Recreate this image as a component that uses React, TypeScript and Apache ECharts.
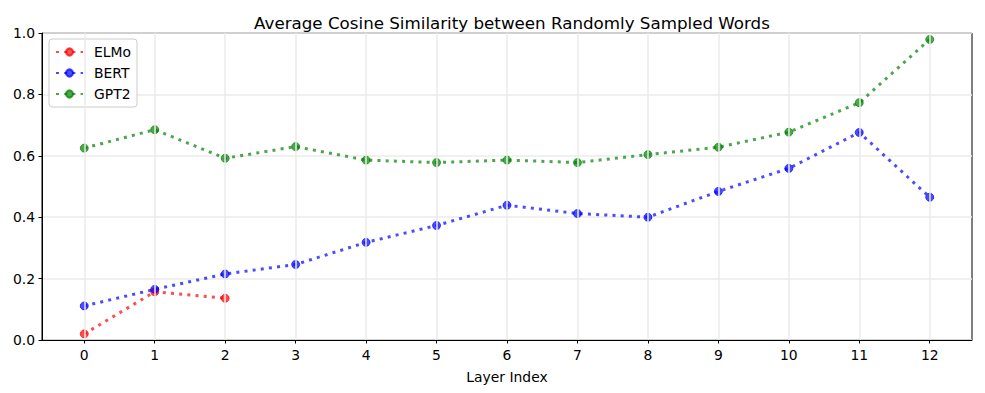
import React, { useEffect, useRef } from "react";
import * as echarts from "echarts";

const layers = [0, 1, 2, 3, 4, 5, 6, 7, 8, 9, 10, 11, 12];
const elmo = [0.02, 0.157, 0.136];
const bert = [0.111, 0.165, 0.215, 0.246, 0.318, 0.373, 0.439, 0.412, 0.4, 0.484, 0.559, 0.676, 0.465];
const gpt2 = [0.625, 0.685, 0.592, 0.63, 0.586, 0.578, 0.586, 0.578, 0.604, 0.628, 0.677, 0.773, 0.979];

const FONT = "DejaVu Sans";

function mkSeries(name: string, values: number[], rgb: string) {
  return {
    name,
    type: "line",
    data: values.map((v, i) => [layers[i], v]),
    symbol: "circle",
    symbolSize: 8,
    z: 3,
    lineStyle: { color: `rgba(${rgb},0.7)`, width: 3, type: [3, 5.2], cap: "butt" },
    itemStyle: { color: `rgba(${rgb},0.7)`, borderColor: `rgba(${rgb},0.7)`, borderWidth: 1 },
    emphasis: { disabled: true },
  };
}

export default function App() {
  const ref = useRef<HTMLDivElement>(null);
  useEffect(() => {
    document.body.style.margin = "0";
    const chart = echarts.init(ref.current!, null, { renderer: "svg" });
    chart.setOption({
      animation: false,
      title: {
        text: "Average Cosine Similarity between Randomly Sampled Words",
        left: 507,
        textAlign: "center",
        top: 9,
        textStyle: { fontFamily: FONT, fontSize: 16.7, fontWeight: "normal", color: "#000" },
      },
      grid: {
        left: 42,
        right: 13,
        top: 33,
        bottom: 53,
        outerBoundsMode: "none",
        containLabel: false,
        show: true,
        borderColor: "#000",
        borderWidth: 1,
        backgroundColor: "transparent",
      },
      legend: {
        data: ["ELMo", "BERT", "GPT2"],
        orient: "vertical",
        left: 49,
        top: 39,
        itemWidth: 27,
        itemHeight: 9,
        itemGap: 5,
        padding: [5, 6, 5, 6],
        borderColor: "#ccc",
        borderWidth: 1,
        borderRadius: 3,
        backgroundColor: "rgba(255,255,255,0.8)",
        textStyle: { fontFamily: FONT, fontSize: 13.9, color: "#000", padding: [0, 0, 0, 6], lineHeight: 16 },
      },
      xAxis: {
        type: "value",
        min: -0.6,
        max: 12.6,
        name: "Layer Index",
        nameLocation: "middle",
        nameGap: 30,
        nameTextStyle: { fontFamily: FONT, fontSize: 13.9, color: "#000" },
        axisLine: { show: true, onZero: false, lineStyle: { color: "#000", width: 1 } },
        axisTick: { show: true, customValues: layers, length: 3.5, lineStyle: { color: "#000" } },
        axisLabel: {
          customValues: layers,
          fontFamily: FONT,
          fontSize: 13.9,
          color: "#000",
          margin: 8,
          formatter: (v: number) => String(v),
        },
        splitLine: { show: false },
      },
      yAxis: {
        type: "value",
        min: 0,
        max: 1,
        interval: 0.2,
        axisLine: { show: true, onZero: false, lineStyle: { color: "#000", width: 1 } },
        axisTick: { show: true, length: 3.5, lineStyle: { color: "#000" } },
        axisLabel: {
          fontFamily: FONT,
          fontSize: 13.9,
          color: "#000",
          margin: 7,
          formatter: (v: number) => v.toFixed(1),
        },
        splitLine: { show: true, lineStyle: { color: "#ebebeb", width: 1.5 } },
      },
      series: [
        {
          name: "grid-x",
          type: "line",
          data: [],
          z: 0,
          silent: true,
          markLine: {
            silent: true,
            symbol: ["none", "none"],
            label: { show: false },
            lineStyle: { color: "#ebebeb", type: "solid", width: 1.5 },
            emphasis: { disabled: true },
            data: layers.map((v) => ({ xAxis: v })),
          },
        },
        mkSeries("ELMo", elmo, "255,0,0"),
        mkSeries("BERT", bert, "0,0,255"),
        mkSeries("GPT2", gpt2, "0,128,0"),
      ],
    });
    return () => chart.dispose();
  }, []);
  return <div ref={ref} style={{ width: 985, height: 393 }} />;
}
